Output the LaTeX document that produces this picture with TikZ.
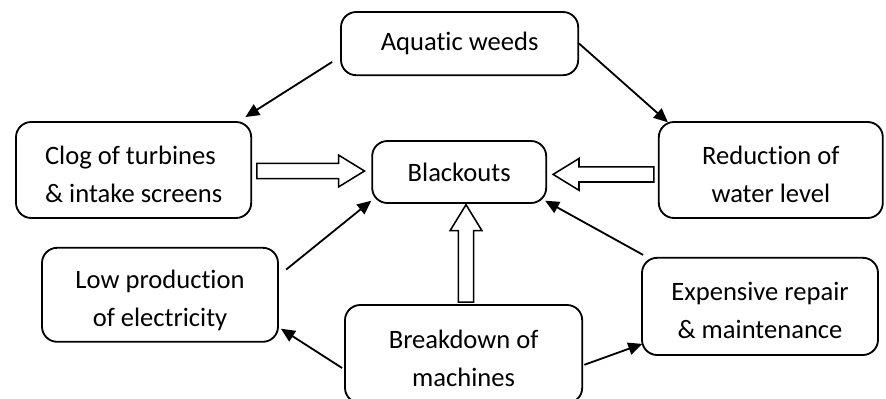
\documentclass[tikz,border=0pt]{standalone}
\usepackage{fontspec}
\setmainfont{Carlito}[Ligatures={NoCommon}]
\usetikzlibrary{arrows.meta,calc}
\tikzset{
  cause/.style={draw, rounded corners=0.38cm, line width=1.3pt, align=center, inner sep=0pt, font=\fontsize{18.9}{27}\selectfont},
  twoline/.style={cause, text height=1.6cm, text depth=0pt},
  link/.style={-{Triangle[length=0.35cm,width=0.31cm]}, line width=1.3pt},
  hollow/.style={draw, line width=1.1pt, fill=white, line join=miter}
}
\newcommand{\hollowarrow}[2]{%
  \draw[hollow] let \p1=(#1), \p2=(#2), \n1={atan2(\y2-\y1,\x2-\x1)}, \n2={veclen(\x2-\x1,\y2-\y1)-18.4} in
    ($(\p1)+(\n1+90:5.4pt)$) -- ($(\p1)+(\n1:\n2)+(\n1+90:5.4pt)$) -- ($(\p1)+(\n1:\n2)+(\n1+90:11.3pt)$) -- (\p2)
    -- ($(\p1)+(\n1:\n2)+(\n1-90:11.3pt)$) -- ($(\p1)+(\n1:\n2)+(\n1-90:5.4pt)$) -- ($(\p1)+(\n1-90:5.4pt)$) -- cycle;}
\begin{document}
\begin{tikzpicture}
  \useasboundingbox (0,0) rectangle (22.15,9.95);
  \node[cause, minimum width=5.93cm, minimum height=1.58cm] (weeds) at (11.49,8.86) {Aquatic weeds};
  \node[twoline, minimum width=5.88cm, minimum height=2.4cm, align=left] (clog) at (3.34,5.70) {Clog of turbines\\ \& intake screens};
  \node[cause, minimum width=4.35cm, minimum height=1.55cm] (black) at (11.48,5.65) {Blackouts};
  \node[twoline, minimum width=5.6cm, minimum height=2.4cm] (water) at (19.27,5.70) {Reduction of\\ water level};
  \node[twoline, minimum width=5.9cm, minimum height=2.35cm] (low) at (4.00,2.58) {Low production\\ of electricity};
  \node[twoline, minimum width=5.93cm, minimum height=2.45cm] (machine) at (11.59,1.10) {Breakdown of\\ machines};
  \node[twoline, minimum width=5.9cm, minimum height=2.43cm] (repair) at (19.00,2.29) {Expensive repair\\ \& maintenance};
  \draw[link] ($(weeds.west)+(-0.2,-0.46)$) -- ($(clog.north east)+(-0.17,0.1)$);
  \draw[link] (weeds.east) -- ($(water.north west)+(0.25,-0.03)$);
  \draw[link] ($(low.east)+(0.18,0.63)$) -- ($(black.south west)+(0,0.08)$);
  \draw[link] ($(machine.west)+(-0.05,-0.35)$) -- ($(low.south east)+(0.05,0.35)$);
  \draw[link] ($(machine.east)+(0.03,-0.27)$) -- ($(repair.south west)+(0.03,0.3)$);
  \draw[link] ($(repair.north west)+(0.05,0.05)$) -- ($(black.south east)+(-0.05,0.08)$);
  \hollowarrow{$(clog.east)+(0.12,-0.025)$}{$(black.west)+(-0.17,0.025)$}
  \hollowarrow{$(water.west)+(-0.1,-0.11)$}{$(black.east)+(0.15,-0.06)$}
  \hollowarrow{$(machine.north)+(0.06,0.05)$}{$(black.south)+(0.17,-0.02)$}
\end{tikzpicture}
\end{document}
